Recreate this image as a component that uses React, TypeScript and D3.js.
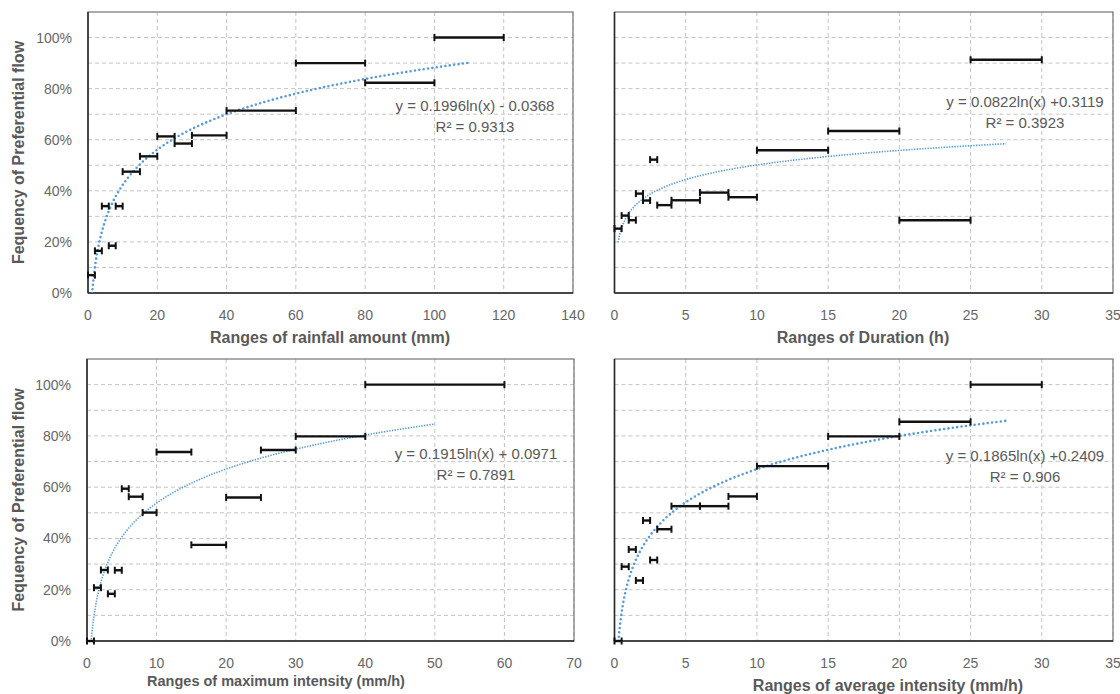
import React from "react";
import * as d3 from "d3";

// ---------- data ----------
const rainLo = [0, 2, 4, 6, 8, 10, 15, 20, 25, 30, 40, 60, 80, 100];
const rainHi = [2, 4, 6, 8, 10, 15, 20, 25, 30, 40, 60, 80, 100, 120];
const rainFreq = [0.07, 0.165, 0.34, 0.185, 0.34, 0.475, 0.535, 0.613, 0.585, 0.617, 0.714, 0.9, 0.823, 1.0];

const durLo = [0, 0.5, 1, 1.5, 2, 2.5, 3, 4, 6, 8, 10, 15, 20, 25];
const durHi = [0.5, 1, 1.5, 2, 2.5, 3, 4, 6, 8, 10, 15, 20, 25, 30];
const durFreq = [0.252, 0.303, 0.285, 0.389, 0.362, 0.522, 0.344, 0.363, 0.393, 0.375, 0.559, 0.634, 0.285, 0.913];

const maxLo = [0, 1, 2, 3, 4, 5, 6, 8, 10, 15, 20, 25, 30, 40];
const maxHi = [1, 2, 3, 4, 5, 6, 8, 10, 15, 20, 25, 30, 40, 60];
const maxFreq = [0, 0.208, 0.277, 0.184, 0.276, 0.594, 0.563, 0.501, 0.737, 0.375, 0.56, 0.745, 0.798, 1.0];

const avgLo = [0, 0.5, 1, 1.5, 2, 2.5, 3, 4, 6, 8, 10, 15, 20, 25];
const avgHi = [0.5, 1, 1.5, 2, 2.5, 3, 4, 6, 8, 10, 15, 20, 25, 30];
const avgFreq = [0, 0.29, 0.357, 0.236, 0.47, 0.316, 0.436, 0.526, 0.526, 0.564, 0.682, 0.798, 0.855, 1.0];

const trendA = [0.1996, 0.0822, 0.1915, 0.1865];
const trendB = [-0.0368, 0.3119, 0.0971, 0.2409];
const eqLabels = [
  "y = 0.1996ln(x) - 0.0368",
  "y = 0.0822ln(x) +0.3119",
  "y = 0.1915ln(x) + 0.0971",
  "y = 0.1865ln(x) +0.2409",
];
const r2Labels = ["R² = 0.9313", "R² = 0.3923", "R² = 0.7891", "R² = 0.906"];
const xTitles = [
  "Ranges of rainfall amount  (mm)",
  "Ranges of Duration  (h)",
  "Ranges of maximum intensity (mm/h)",
  "Ranges of average intensity  (mm/h)",
];
const xMaxes = [140, 35, 70, 35];
const xSteps = [20, 5, 10, 5];
const yTicks = [0, 0.2, 0.4, 0.6, 0.8, 1.0];
const yGrid = [0.1, 0.2, 0.3, 0.4, 0.5, 0.6, 0.7, 0.8, 0.9, 1.0];
const yTitle = "Fequency of Preferential flow";

// ---------- layout ----------
type Panel = {
  lo: number[]; hi: number[]; f: number[];
  left: number; right: number; top: number; bottom: number;
  showY: boolean; thick: boolean;
  eqX: number; eqY: number; titleX: number; titleY: number; titleSize: number; tickY: number;
};

const panels: Panel[] = [
  { lo: rainLo, hi: rainHi, f: rainFreq, left: 88, right: 573, top: 12, bottom: 293, showY: true, thick: true, eqX: 475, eqY: 111, titleX: 330, titleY: 343, titleSize: 16, tickY: 320 },
  { lo: durLo, hi: durHi, f: durFreq, left: 614.5, right: 1113, top: 12, bottom: 293, showY: false, thick: false, eqX: 1025, eqY: 107, titleX: 863, titleY: 343, titleSize: 16, tickY: 320 },
  { lo: maxLo, hi: maxHi, f: maxFreq, left: 87, right: 574, top: 359, bottom: 641, showY: true, thick: false, eqX: 476, eqY: 459, titleX: 276, titleY: 686, titleSize: 14.5, tickY: 668 },
  { lo: avgLo, hi: avgHi, f: avgFreq, left: 614.5, right: 1113, top: 359, bottom: 641, showY: false, thick: true, eqX: 1025, eqY: 461, titleX: 888, titleY: 691, titleSize: 16, tickY: 668 },
];

const FONT = "'Liberation Sans', Arial, sans-serif";
const TXT = "#595959";

function PanelView({ p, i }: { p: Panel; i: number }) {
  const x = d3.scaleLinear().domain([0, xMaxes[i]]).range([p.left, p.right]);
  const y = d3.scaleLinear().domain([0, 1.1]).range([p.bottom, p.top]);
  const xTicks = d3.range(0, xMaxes[i] + 0.001, xSteps[i]);
  const clipId = `clip${i}`;
  const mids = p.lo.map((l, k) => (l + p.hi[k]) / 2);
  const x0 = mids[0];
  const x1 = mids[mids.length - 1];
  const samples = d3.range(0, 401).map((k) => x0 + ((x1 - x0) * k) / 400);
  const line = d3
    .line<number>()
    .x((v) => x(v))
    .y((v) => y(trendA[i] * Math.log(v) + trendB[i]));
  const cap = 3.5;
  return (
    <g>
      <defs>
        <clipPath id={clipId}>
          <rect x={p.left} y={p.top} width={p.right - p.left} height={p.bottom - p.top} />
        </clipPath>
      </defs>
      {yGrid.map((v) => (
        <line key={"h" + v} x1={p.left} x2={p.right} y1={y(v)} y2={y(v)} stroke="#c4c4c4" strokeDasharray="4 3" strokeWidth={1} />
      ))}
      {xTicks.slice(1).map((v) => (
        <line key={"v" + v} x1={x(v)} x2={x(v)} y1={p.top} y2={p.bottom} stroke="#c4c4c4" strokeDasharray="4 3" strokeWidth={1} />
      ))}
      <rect x={p.left} y={p.top} width={p.right - p.left} height={p.bottom - p.top} fill="none" stroke="#7f7f7f" strokeWidth={1.3} />
      <line x1={p.left} x2={p.left} y1={p.top} y2={p.bottom} stroke="#262626" strokeWidth={1.5} />
      <line x1={p.left} x2={p.right} y1={p.bottom} y2={p.bottom} stroke="#262626" strokeWidth={1.5} />
      <g clipPath={`url(#${clipId})`}>
        <path
          d={line(samples) || ""}
          fill="none"
          stroke="#5b9bd5"
          strokeWidth={p.thick ? 2.6 : 1.6}
          strokeDasharray={p.thick ? "0 4.4" : "1.4 1.3"}
          strokeLinecap={p.thick ? "round" : "butt"}
        />
      </g>
      {p.lo.map((l, k) => (
        <g key={"e" + k}>
          <line x1={x(l)} x2={x(p.hi[k])} y1={y(p.f[k])} y2={y(p.f[k])} stroke="#111" strokeWidth={2.4} />
          <line x1={x(l)} x2={x(l)} y1={y(p.f[k]) - cap} y2={y(p.f[k]) + cap} stroke="#111" strokeWidth={2} />
          <line x1={x(p.hi[k])} x2={x(p.hi[k])} y1={y(p.f[k]) - cap} y2={y(p.f[k]) + cap} stroke="#111" strokeWidth={2} />
        </g>
      ))}
      {xTicks.map((v) => (
        <text key={"t" + v} x={x(v)} y={p.tickY} textAnchor="middle" fontSize={14} fill="#666" fontFamily={FONT}>
          {v}
        </text>
      ))}
      {p.showY &&
        yTicks.map((v) => (
          <text key={"y" + v} x={p.left - 16} y={y(v) + 5} textAnchor="end" fontSize={14} fill="#666" fontFamily={FONT}>
            {d3.format(".0%")(v)}
          </text>
        ))}
      {p.showY && (
        <text
          transform={`translate(${20},${(p.top + p.bottom) / 2}) rotate(-90)`}
          textAnchor="middle"
          dominantBaseline="middle"
          fontSize={16}
          fontWeight="bold"
          fill={TXT}
          fontFamily={FONT}
        >
          {yTitle}
        </text>
      )}
      <text x={p.titleX} y={p.titleY} textAnchor="middle" fontSize={p.titleSize} fontWeight="bold" fill={TXT} fontFamily={FONT}>
        {xTitles[i]}
      </text>
      <text x={p.eqX} y={p.eqY} textAnchor="middle" fontSize={15} fill={TXT} fontFamily={FONT}>
        {eqLabels[i]}
      </text>
      <text x={p.eqX} y={p.eqY + 21} textAnchor="middle" fontSize={15} fill={TXT} fontFamily={FONT}>
        {r2Labels[i]}
      </text>
    </g>
  );
}

export default function App() {
  return (
    <svg
      width={1120}
      height={694}
      style={{ position: "absolute", left: 0, top: 0, background: "#fff" }}
    >
      <rect x={0} y={0} width={1120} height={694} fill="#fff" />
      {panels.map((p, i) => (
        <PanelView key={i} p={p} i={i} />
      ))}
    </svg>
  );
}
